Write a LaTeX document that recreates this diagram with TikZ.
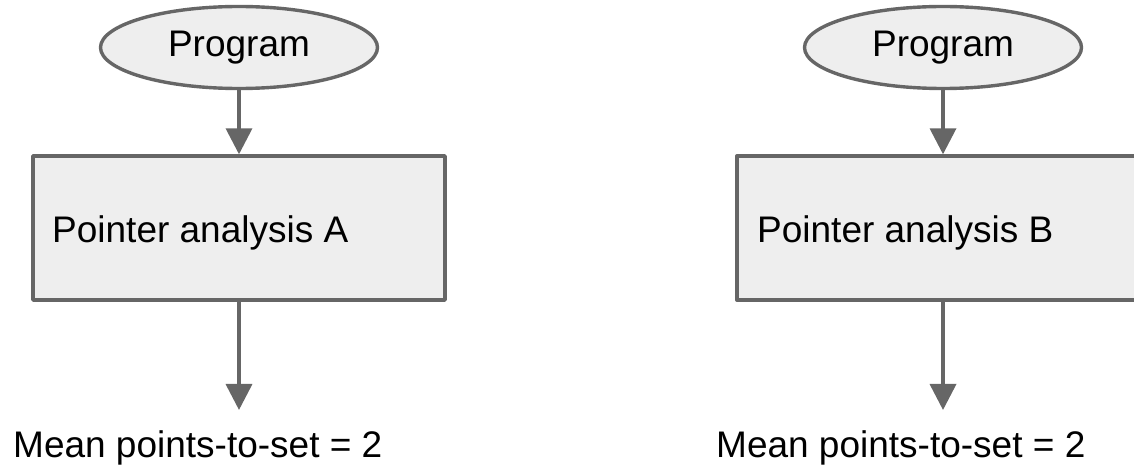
\documentclass[tikz,border=0pt]{standalone}
\usepackage{fontspec}
\setmainfont{Liberation Sans}
\usetikzlibrary{shapes.geometric,arrows.meta}
\definecolor{edge}{HTML}{666666}
\definecolor{panel}{HTML}{EEEEEE}
\begin{document}
\begin{tikzpicture}[x=1pt,y=-1pt,
  every node/.style={font=\fontsize{37}{44}\selectfont},
  startnode/.style={ellipse,draw=edge,fill=panel,line width=3.4pt,
    minimum width=277pt,minimum height=82pt,inner sep=0pt},
  procbox/.style={draw=edge,fill=panel,line width=3.4pt,line join=round,
    minimum width=412pt,minimum height=144pt,inner sep=0pt},
  plain/.style={inner sep=0pt},
  flow/.style={draw=edge,line width=3.6pt,
    -{Triangle[width=26pt,length=26pt]}}]
  \clip (0,0) rectangle (1134,476);
  \useasboundingbox (0,0) rectangle (1134,476);

  % left column
  \node[startnode] (progA) at (239,47.5) {Program};
  \node[procbox] (boxA) at (239,228) {};
  \node[plain,anchor=base west] (labA) at (52,242) {Pointer analysis A};
  \node[plain,anchor=base west] (resA) at (13,457) {Mean points-to-set = 2};

  % right column
  \node[startnode] (progB) at (943,47.5) {Program};
  \node[procbox] (boxB) at (943,228) {};
  \node[plain,anchor=base west] (labB) at (757,242) {Pointer analysis B};
  \node[plain,anchor=base west] (resB) at (716,457) {Mean points-to-set = 2};

  % connectors
  \draw[flow] (progA.south) -- (progA.south |- boxA.north);
  \draw[flow,shorten >=20pt] (boxA.south) -- (boxA.south |- resA.north);
  \draw[flow] (progB.south) -- (progB.south |- boxB.north);
  \draw[flow,shorten >=20pt] (boxB.south) -- (boxB.south |- resB.north);
\end{tikzpicture}
\end{document}
